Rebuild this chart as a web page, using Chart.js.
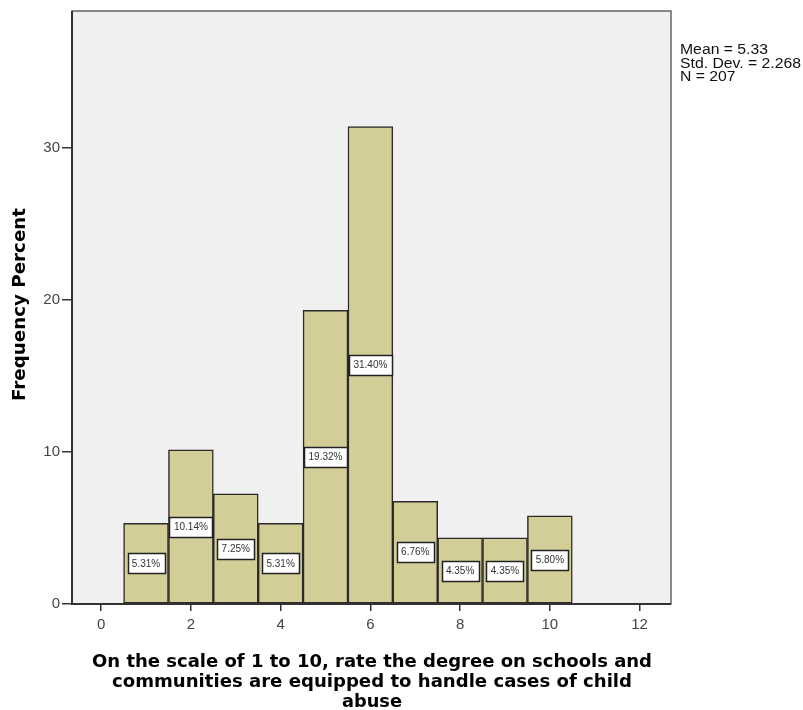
<!DOCTYPE html>
<html>
<head>
<meta charset="utf-8">
<script src="https://cdn.jsdelivr.net/npm/chart.js@4/dist/chart.umd.min.js"></script>
<style>
  body { margin: 0; background: #ffffff; }
  canvas { display: block; }
</style>
</head>
<body>
<canvas id="chart" width="803" height="710"></canvas>
<script>
// Histogram data (percent of respondents per rating)
const ratings = [1, 2, 3, 4, 5, 6, 7, 8, 9, 10];
const percents = [5.31, 10.14, 7.25, 5.31, 19.32, 31.40, 6.76, 4.35, 4.35, 5.80];
const barLabels = ['5.31%', '10.14%', '7.25%', '5.31%', '19.32%', '31.40%', '6.76%', '4.35%', '4.35%', '5.80%'];
const statsLines = ['Mean = 5.33', 'Std. Dev. = 2.268', 'N = 207'];
const xTitleLines = [
  'On the scale of 1 to 10, rate the degree on schools and',
  'communities are equipped to handle cases of child',
  'abuse'
];
const yTitle = 'Frequency Percent';

const FONT = 'Arial, "Liberation Sans", sans-serif';
const TITLE_FONT = '"DejaVu Sans", Verdana, sans-serif';

// draw text squeezed/stretched to a given width (the SPSS export is wider than our fonts)
function fitText(ctx, text, x, y, width) {
  const w = ctx.measureText(text).width;
  ctx.save();
  ctx.translate(x, y);
  ctx.scale(width / w, 1);
  ctx.fillText(text, 0, 0);
  ctx.restore();
}

// Plot background + frame, axis titles, stats text
const decorPlugin = {
  id: 'decor',
  beforeDraw(chart) {
    const { ctx, chartArea: a } = chart;
    ctx.save();
    ctx.fillStyle = '#f0f0f0';
    ctx.fillRect(a.left, a.top, a.right - a.left, a.bottom - a.top);
    ctx.restore();
  },
  afterDraw(chart) {
    const { ctx, chartArea: a } = chart;
    ctx.save();
    // frame
    ctx.strokeStyle = '#666';
    ctx.lineWidth = 1.5;
    ctx.strokeRect(a.left, a.top, a.right - a.left, a.bottom - a.top);
    ctx.strokeStyle = '#333';
    ctx.lineWidth = 2;
    ctx.beginPath();
    ctx.moveTo(a.left, a.top);
    ctx.lineTo(a.left, a.bottom);
    ctx.lineTo(a.right, a.bottom);
    ctx.stroke();

    // y title
    ctx.fillStyle = '#000';
    ctx.font = 'bold 17px ' + TITLE_FONT;
    ctx.textAlign = 'center';
    ctx.textBaseline = 'alphabetic';
    ctx.save();
    ctx.translate(25, 304.5);
    ctx.rotate(-Math.PI / 2);
    fitText(ctx, yTitle, 0, 0, 193);
    ctx.restore();

    // x title
    ctx.font = 'bold 18px ' + TITLE_FONT;
    const widths = [560, 520, 60];
    xTitleLines.forEach((t, i) => {
      fitText(ctx, t, 372, 667 + i * 20, widths[i]);
    });

    // stats
    ctx.font = '14px ' + FONT;
    ctx.textAlign = 'left';
    ctx.fillStyle = '#111';
    const sx = 121 / ctx.measureText(statsLines[1]).width;
    statsLines.forEach((t, i) => {
      fitText(ctx, t, 680, 54 + i * 13.5, ctx.measureText(t).width * sx);
    });
    ctx.restore();
  }
};

// Percentage boxes in the middle of each bar
const barLabelPlugin = {
  id: 'barLabels',
  afterDatasetsDraw(chart) {
    const { ctx } = chart;
    const meta = chart.getDatasetMeta(0);
    ctx.save();
    ctx.font = '10px ' + FONT;
    ctx.textAlign = 'center';
    ctx.textBaseline = 'middle';
    meta.data.forEach((bar, i) => {
      const cy = (bar.y + bar.base) / 2;
      const w = Math.round(ctx.measureText(barLabels[i]).width + 9);
      const h = 20;
      const x0 = Math.round(bar.x - w / 2) + 0.5;
      const y0 = Math.round(cy - h / 2) + 0.5;
      ctx.fillStyle = '#ffffff';
      ctx.fillRect(x0, y0, w, h);
      ctx.strokeStyle = '#222';
      ctx.lineWidth = 1.5;
      ctx.strokeRect(x0, y0, w, h);
      ctx.fillStyle = '#333';
      ctx.fillText(barLabels[i], bar.x, cy + 0.5);
    });
    ctx.restore();
  }
};

new Chart(document.getElementById('chart'), {
  type: 'bar',
  data: {
    datasets: [{
      data: ratings.map((r, i) => ({ x: r, y: percents[i] })),
      backgroundColor: '#d3ce98',
      borderColor: '#2a2a2a',
      borderWidth: 1.5,
      borderSkipped: false,
      barPercentage: 1,
      categoryPercentage: 1
    }]
  },
  options: {
    responsive: false,
    animation: false,
    layout: { padding: { top: 10, right: 132, left: 0, bottom: 0 } },
    plugins: {
      legend: { display: false },
      tooltip: { enabled: false }
    },
    scales: {
      x: {
        type: 'linear',
        offset: false,
        min: -0.65,
        max: 12.7,
        border: { display: false },
        grid: { offset: false, drawOnChartArea: false, drawTicks: true, tickLength: 7, color: '#333', lineWidth: 1.5 },
        ticks: {
          stepSize: 2,
          includeBounds: false,
          color: '#444',
          font: { family: FONT, size: 15 },
          padding: 5,
          maxRotation: 0
        },
        afterFit(scale) { scale.height = 106; }
      },
      y: {
        min: 0,
        max: 39,
        border: { display: false },
        grid: { drawOnChartArea: false, drawTicks: true, tickLength: 10, color: '#333', lineWidth: 1.5 },
        ticks: {
          stepSize: 10,
          includeBounds: false,
          color: '#444',
          font: { family: FONT, size: 15 },
          padding: 2
        },
        afterFit(scale) { scale.width = 72; }
      }
    }
  },
  plugins: [decorPlugin, barLabelPlugin]
});
</script>
</body>
</html>
